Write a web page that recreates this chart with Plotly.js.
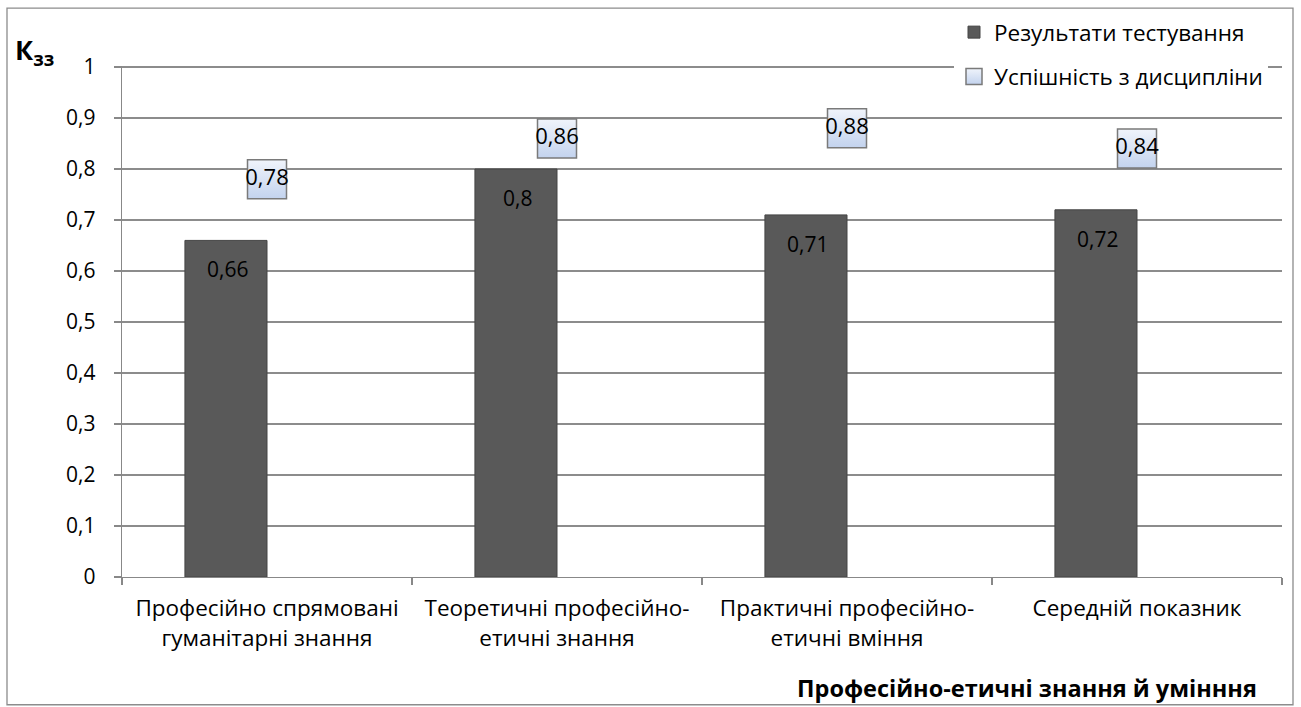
<!DOCTYPE html>
<html>
<head>
<meta charset="utf-8">
<script src="https://cdn.plot.ly/plotly-3.0.1.min.js"></script>
<style>
  html, body { margin: 0; padding: 0; background: #fff; }
  #chart { width: 1301px; height: 707px; }
</style>
</head>
<body>
<div id="chart"></div>
<script>
// Categories of professional-ethical knowledge and skills
const categories = [
  'Професійно спрямовані<br>гуманітарні знання',
  'Теоретичні професійно-<br>етичні знання',
  'Практичні професійно-<br>етичні вміння',
  'Середній показник'
];
// Knowledge coefficient values for each series
const testResults = [0.66, 0.8, 0.71, 0.72];
const courseResults = [0.78, 0.86, 0.88, 0.84];
const seriesNames = ['Результати тестування', 'Успішність з дисципліни'];
const yTicks = [0, 0.1, 0.2, 0.3, 0.4, 0.5, 0.6, 0.7, 0.8, 0.9, 1];

const FONT = 'Open Sans, Noto Sans, sans-serif';
const fmt = v => String(v).replace('.', ',');

const L = 122, R = 19, T = 65, B = 130, W = 1301, H = 707;
const pw = W - L - R, ph = H - T - B;
const px = x => (x - L) / pw;
const py = y => (H - B - y) / ph;

const bars = {
  type: 'bar',
  name: seriesNames[0],
  x: categories,
  y: testResults,
  width: 0.283,
  offset: -0.283,
  marker: { color: '#595959', line: { color: '#454545', width: 1 } },
  hoverinfo: 'x+y',
  legendgroup: 'a'
};

const marks = {
  type: 'scatter',
  mode: 'markers+text',
  name: seriesNames[1],
  x: categories,
  y: courseResults,
  text: courseResults.map(fmt),
  textposition: 'middle center',
  textfont: { family: FONT, size: 22, color: '#000' },
  marker: {
    symbol: 'square',
    size: 39,
    color: '#f0f4fb',
    gradient: { type: 'vertical', color: '#c3d3ee' },
    line: { color: '#7a7a7a', width: 1.5 }
  },
  cliponaxis: false,
  legendgroup: 'b'
};

// Value labels sitting inside the top of each bar
const barLabels = categories.map((c, i) => ({
  x: c, y: testResults[i], xref: 'x', yref: 'y',
  text: fmt(testResults[i]), showarrow: false,
  xshift: -40, yshift: -29,
  font: { family: FONT, size: 21, color: '#000' }
}));

const layout = {
  width: W, height: H,
  margin: { l: L, r: R, t: T, b: B, pad: 0 },
  paper_bgcolor: '#fff', plot_bgcolor: '#fff',
  separators: ', ',
  font: { family: FONT, size: 21, color: '#000' },
  showlegend: true,
  legend: {
    x: px(1268), xanchor: 'right',
    y: py(11), yanchor: 'top',
    bgcolor: '#fff',
    font: { family: FONT, size: 22.5, color: '#000' },
    traceorder: 'grouped',
    tracegroupgap: 12,
    itemwidth: 30
  },
  xaxis: {
    type: 'category',
    showline: true, linecolor: '#888', linewidth: 1.3,
    ticks: 'outside', tickson: 'boundaries', ticklen: 7, tickcolor: '#888', tickwidth: 1.3,
    showgrid: false,
    tickfont: { family: FONT, size: 22.5, color: '#000' },
    ticklabelstandoff: 11
  },
  yaxis: {
    range: [0, 1.002],
    tickvals: yTicks,
    ticktext: yTicks.map(fmt),
    showline: true, linecolor: '#888', linewidth: 1.3,
    ticks: 'outside', ticklen: 7, tickcolor: '#888', tickwidth: 1.3,
    showgrid: true, gridcolor: '#8c8c8c', gridwidth: 1.2,
    zeroline: false,
    tickfont: { family: FONT, size: 21, color: '#000' },
    ticklabelstandoff: 14
  },
  annotations: barLabels.concat([
    {
      xref: 'paper', yref: 'paper', x: px(13), y: py(50),
      xanchor: 'left', yanchor: 'middle', showarrow: false,
      text: '<b>К<sub>зз</sub></b>',
      font: { family: FONT, size: 27, color: '#000' }
    },
    {
      xref: 'paper', yref: 'paper', x: px(1259), y: py(688),
      xanchor: 'right', yanchor: 'middle', showarrow: false,
      text: '<b>Професійно-етичні знання й умінння</b>',
      font: { family: FONT, size: 23.5, color: '#000' }
    }
  ]),
  shapes: [{
    type: 'rect', xref: 'paper', yref: 'paper', layer: 'below',
    x0: px(7), x1: px(1293), y0: py(705), y1: py(7),
    line: { color: '#8c8c8c', width: 1.3 }, fillcolor: 'rgba(0,0,0,0)'
  }]
};

Plotly.newPlot('chart', [bars, marks], layout, { displayModeBar: false, staticPlot: true });
</script>
</body>
</html>
